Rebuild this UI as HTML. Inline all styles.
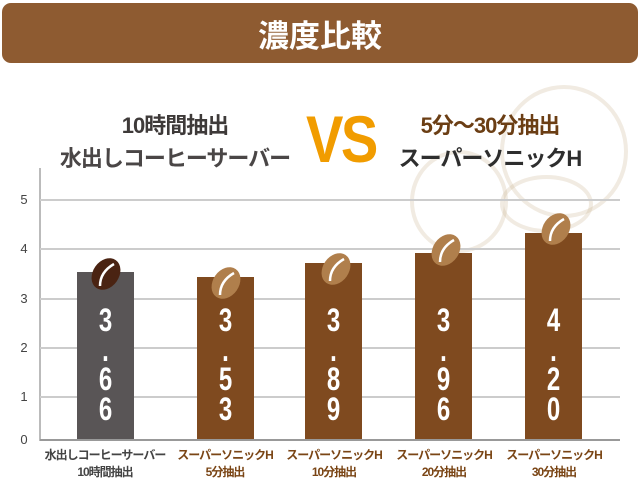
<!DOCTYPE html>
<html><head><meta charset="utf-8"><style>
body{margin:0;width:640px;height:495px;background:#fff;overflow:hidden;position:relative;font-family:"Liberation Sans","Noto Sans CJK JP",sans-serif}
.a{position:absolute}
.ban{left:2px;top:3px;width:636px;height:60px;background:#8e5b31;border-radius:9px}
.t{color:#fff;font-size:31px;font-weight:bold;left:0;width:640px;text-align:center;top:11px}
.h{font-weight:bold;font-size:22px;text-align:center;white-space:nowrap;letter-spacing:-1px}
.g{left:40px;width:580px;height:2px;background:#ccc}
.yl{left:14px;width:20px;text-align:center;color:#444;font-size:13px}
.bar{background:#7f4a1f;width:57px}
.v{color:#fff;font-size:32px;font-weight:bold;text-align:center;width:57px;line-height:29.5px;transform:scaleX(.75)}
.xl{width:130px;text-align:center;font-size:12px;font-weight:bold;line-height:17px;color:#7a4515;letter-spacing:-1px}
.ring{border-radius:50%;border:4px solid rgba(200,175,140,.25)}
</style></head><body>
<div class="a ban"></div>
<div class="a t">濃度比較</div>
<div class="a ring" style="left:500px;top:85px;width:120px;height:125px"></div>
<div class="a ring" style="left:410px;top:150px;width:90px;height:95px"></div>
<div class="a ring" style="left:500px;top:175px;width:85px;height:50px"></div>
<div class="a h" style="left:60px;width:230px;top:108px;color:#3e3a39">10時間抽出</div>
<div class="a h" style="left:50px;width:250px;top:141px;color:#4a4646">水出しコーヒーサーバー</div>
<div class="a" style="left:306px;top:101px;color:#f19c00;font-size:66px;font-weight:bold;transform:scaleX(.85);transform-origin:left;letter-spacing:-3px">VS</div>
<div class="a h" style="left:385px;width:210px;top:108px;color:#6b3e14">5分〜30分抽出</div>
<div class="a h" style="left:385px;width:210px;top:141px;color:#2e2e2e">スーパーソニックH</div>
<div class="a" style="left:39px;top:168px;width:2px;height:273px;background:#bbb"></div>
<div class="a g" style="top:199px"></div><div class="a g" style="top:248px"></div><div class="a g" style="top:298px"></div><div class="a g" style="top:347px"></div><div class="a g" style="top:396px"></div><div class="a g" style="top:439px;background:#999"></div>
<div class="a yl" style="top:192px">5</div><div class="a yl" style="top:241px">4</div><div class="a yl" style="top:291px">3</div><div class="a yl" style="top:340px">2</div><div class="a yl" style="top:389px">1</div><div class="a yl" style="top:432px">0</div>
<div class="a bar" style="left:77px;top:272px;height:167px;background:#595556"></div>
<div class="a bar" style="left:197px;top:277px;height:162px"></div>
<div class="a bar" style="left:305px;top:263px;height:176px"></div>
<div class="a bar" style="left:415px;top:253px;height:186px"></div>
<div class="a bar" style="left:525px;top:233px;height:206px"></div>
<svg class="a" style="left:0;top:0" width="640" height="495">
<g><ellipse cx="106" cy="274" rx="13" ry="17" transform="rotate(35 106 274)" fill="#4a2312"/><path d="M114 264 Q100 272 100 286" stroke="#fff" stroke-width="2.5" fill="none"/></g>
<g><ellipse cx="226" cy="283" rx="13" ry="17" transform="rotate(35 226 283)" fill="#b07f4c"/><path d="M234 273 Q220 281 220 295" stroke="#fff" stroke-width="2.5" fill="none"/></g>
<g><ellipse cx="336" cy="269" rx="13" ry="17" transform="rotate(35 336 269)" fill="#b07f4c"/><path d="M344 259 Q330 267 330 281" stroke="#fff" stroke-width="2.5" fill="none"/></g>
<g><ellipse cx="446" cy="250" rx="13" ry="17" transform="rotate(35 446 250)" fill="#b07f4c"/><path d="M454 240 Q440 248 440 262" stroke="#fff" stroke-width="2.5" fill="none"/></g>
<g><ellipse cx="556" cy="229" rx="13" ry="17" transform="rotate(35 556 229)" fill="#b07f4c"/><path d="M564 219 Q550 227 550 241" stroke="#fff" stroke-width="2.5" fill="none"/></g>
</svg>
<div class="a v" style="left:77px;top:306px">3<br>.<br>6<br>6</div>
<div class="a v" style="left:197px;top:306px">3<br>.<br>5<br>3</div>
<div class="a v" style="left:305px;top:306px">3<br>.<br>8<br>9</div>
<div class="a v" style="left:415px;top:306px">3<br>.<br>9<br>6</div>
<div class="a v" style="left:525px;top:306px">4<br>.<br>2<br>0</div>
<div class="a xl" style="left:40px;top:447px;color:#444">水出しコーヒーサーバー<br>10時間抽出</div>
<div class="a xl" style="left:160px;top:447px">スーパーソニックH<br>5分抽出</div>
<div class="a xl" style="left:269px;top:447px">スーパーソニックH<br>10分抽出</div>
<div class="a xl" style="left:379px;top:447px">スーパーソニックH<br>20分抽出</div>
<div class="a xl" style="left:489px;top:447px">スーパーソニックH<br>30分抽出</div>
</body></html>
